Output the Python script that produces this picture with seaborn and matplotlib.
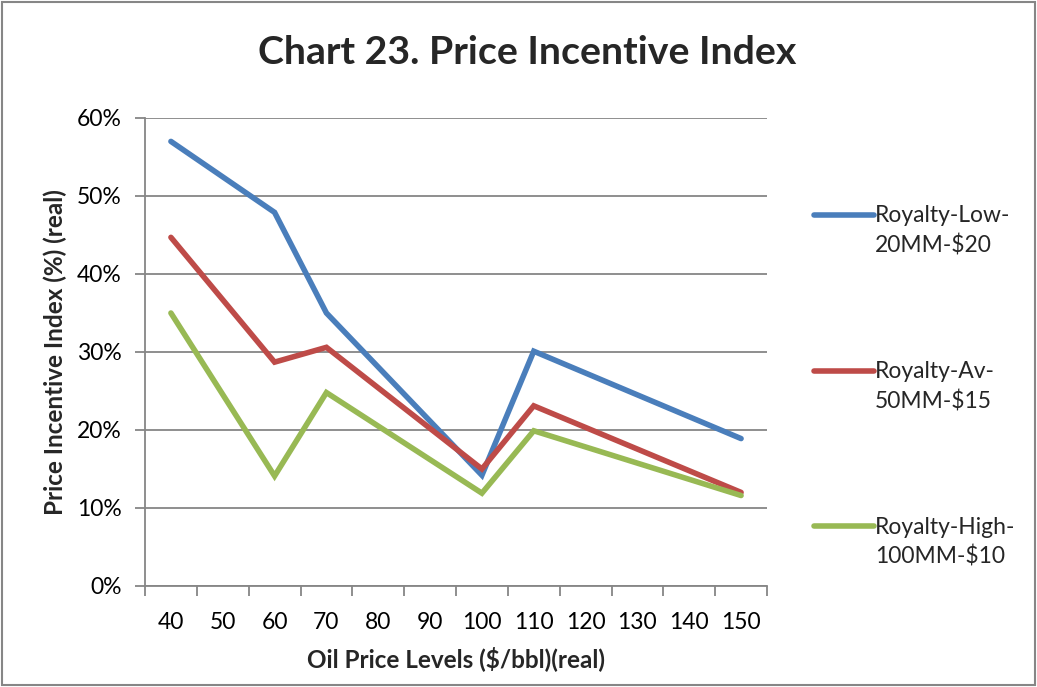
import matplotlib
matplotlib.use("Agg")
import matplotlib.pyplot as plt
import matplotlib.patches as mpatches
import matplotlib.ticker as mticker
from matplotlib.legend_handler import HandlerLine2D
import seaborn as sns
import pandas as pd

# ---- data ----
oil_prices = [40, 60, 70, 100, 110, 150]
royalty_low = [0.570, 0.479, 0.350, 0.142, 0.301, 0.189]
royalty_av = [0.447, 0.287, 0.306, 0.150, 0.231, 0.120]
royalty_high = [0.350, 0.141, 0.248, 0.119, 0.199, 0.116]
series_names = ["Royalty-Low-\n20MM-$20", "Royalty-Av-\n50MM-$15", "Royalty-High-\n100MM-$10"]
tick_labels = [40, 50, 60, 70, 80, 90, 100, 110, 120, 130, 140, 150]
colors = ["#4A7EBB", "#BE4B48", "#98B954"]

rows = []
for name, vals in zip(series_names, [royalty_low, royalty_av, royalty_high]):
    for x, v in zip(oil_prices, vals):
        rows.append({"price": x, "value": v, "series": name})
df = pd.DataFrame(rows)

sns.set_theme(style="white")
plt.rcParams["font.family"] = ["Lato", "DejaVu Sans"]

fig = plt.figure(figsize=(10.37, 6.87), dpi=100)
ax = fig.add_axes([145 / 1037, 1 - 586 / 687, (767 - 145) / 1037, (586 - 118) / 687])

sns.lineplot(data=df, x="price", y="value", hue="series", palette=colors,
             linewidth=4, ax=ax, sort=False, estimator=None,
             solid_capstyle="round", solid_joinstyle="miter")

grid_c = "#868686"
ax.set_xlim(35, 155)
ax.set_ylim(0, 0.6)
ax.yaxis.set_major_locator(mticker.MultipleLocator(0.1))
ax.yaxis.set_major_formatter(mticker.FuncFormatter(lambda v, p: f"{v*100:.0f}%"))
ax.grid(axis="y", color=grid_c, linewidth=1.3)
ax.set_axisbelow(True)

# x: tick marks at boundaries, labels at centers
ax.set_xticks(tick_labels)
ax.set_xticklabels([str(t) for t in tick_labels])
ax.set_xticks([35 + 10 * i for i in range(13)], minor=True)
ax.tick_params(axis="x", which="major", length=0, pad=19, labelsize=16.5, colors="black")
ax.tick_params(axis="x", which="minor", length=7, width=1.3, color=grid_c, direction="out", bottom=True)
ax.tick_params(axis="y", which="major", length=7, width=1.3, color=grid_c, direction="out", left=True,
               labelsize=16.5, labelcolor="black", pad=10)

for s in ["top", "right"]:
    ax.spines[s].set_visible(False)
for s in ["left", "bottom"]:
    ax.spines[s].set_color(grid_c)
    ax.spines[s].set_linewidth(1.3)

ax.set_xlabel("Oil Price Levels ($/bbl)(real)", fontsize=17.5, fontweight="bold", labelpad=9)
ax.set_ylabel("Price Incentive Index (%) (real)", fontsize=17.5, fontweight="bold", labelpad=7)

fig.text(0.508, 1 - 53 / 687, "Chart 23. Price Incentive Index", ha="center", va="center",
         fontsize=28.3, fontweight="bold")


class HandlerTopLine(HandlerLine2D):
    def create_artists(self, legend, orig_handle, xdescent, ydescent, width, height, fontsize, trans):
        arts = super().create_artists(legend, orig_handle, xdescent, ydescent, width, height, fontsize, trans)
        for a in arts:
            a.set_ydata([y + 0.72 * fontsize for y in a.get_ydata()])
        return arts


leg = ax.legend(loc="upper left", bbox_to_anchor=(805 / 1037, 1 - 196 / 687),
                bbox_transform=fig.transFigure, frameon=False, fontsize=16.5,
                handlelength=2.6, handletextpad=0.05, labelspacing=4.57, borderaxespad=0,
                handler_map={matplotlib.lines.Line2D: HandlerTopLine()})
for line in leg.get_lines():
    line.set_linewidth(4)
for t in leg.get_texts():
    t.set_linespacing(1.45)

fig.patches.append(mpatches.Rectangle((0.002, 0.003), 0.996, 0.994, transform=fig.transFigure,
                                      fill=False, edgecolor=grid_c, linewidth=1.5))

fig.savefig("out.png", dpi=100)
